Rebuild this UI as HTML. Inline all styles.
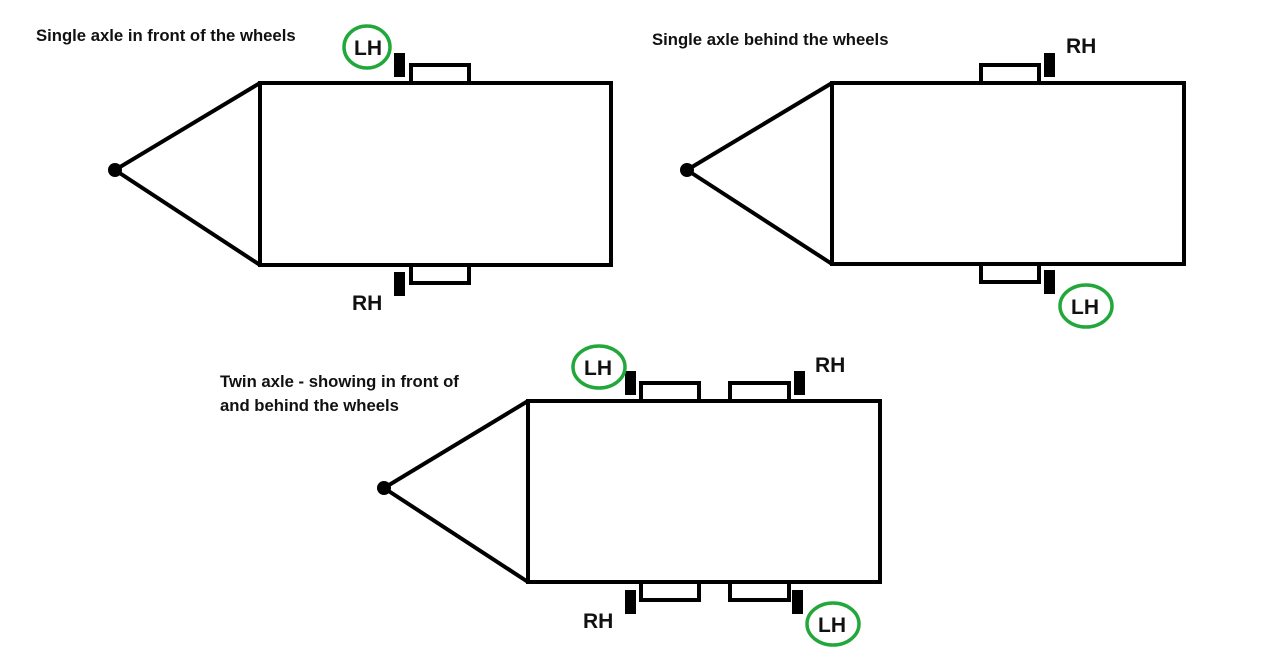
<!DOCTYPE html>
<html><head><style>body{margin:0;background:#fff}</style></head><body>
<svg width="1279" height="667" xmlns="http://www.w3.org/2000/svg" font-family="Liberation Sans, sans-serif">
<rect width="1279" height="667" fill="#fff"/>
<g fill="none" stroke="#000" stroke-width="4">
<rect x="260" y="83" width="351" height="182"/>
<polyline points="260,83 115,170 260,265"/>
<rect x="411" y="65" width="58" height="18"/>
<rect x="411" y="265" width="58" height="18"/>
<rect x="832" y="83" width="352" height="181"/>
<polyline points="832,83 687,170 832,264"/>
<rect x="981" y="65" width="58" height="18"/>
<rect x="981" y="264" width="58" height="18"/>
<rect x="528" y="401" width="352" height="181"/>
<polyline points="528,401 384,488 528,582"/>
<rect x="641" y="383" width="58" height="18"/>
<rect x="730" y="383" width="59" height="18"/>
<rect x="641" y="582" width="58" height="18"/>
<rect x="730" y="582" width="59" height="18"/>
</g>
<g fill="#000">
<circle cx="115" cy="170" r="7"/><circle cx="687" cy="170" r="7"/><circle cx="384" cy="488" r="7"/>
<rect x="394" y="53" width="11" height="24"/>
<rect x="394" y="272" width="11" height="24"/>
<rect x="1044" y="53" width="11" height="24"/>
<rect x="1044" y="270" width="11" height="24"/>
<rect x="625" y="371" width="11" height="24"/>
<rect x="794" y="371" width="11" height="24"/>
<rect x="625" y="590" width="11" height="24"/>
<rect x="792" y="590" width="11" height="24"/>
</g>
<g fill="none" stroke="#22a83a" stroke-width="3.5">
<ellipse cx="367" cy="47" rx="23" ry="21"/>
<ellipse cx="1086" cy="306" rx="26" ry="21"/>
<ellipse cx="599" cy="367" rx="26" ry="21"/>
<ellipse cx="833" cy="624" rx="26" ry="21"/>
</g>
<g font-weight="bold" font-size="21" fill="#111">
<text x="354" y="55">LH</text>
<text x="352" y="310">RH</text>
<text x="1066" y="53">RH</text>
<text x="1071" y="314">LH</text>
<text x="584" y="375">LH</text>
<text x="815" y="372">RH</text>
<text x="583" y="628">RH</text>
<text x="818" y="632">LH</text>
</g>
<g font-weight="bold" font-size="16.7" fill="#111">
<text x="36" y="41">Single axle in front of the wheels</text>
<text x="652" y="45">Single axle behind the wheels</text>
<text x="220" y="387">Twin axle - showing in front of</text>
<text x="220" y="411">and behind the wheels</text>
</g>
</svg>
</body></html>
